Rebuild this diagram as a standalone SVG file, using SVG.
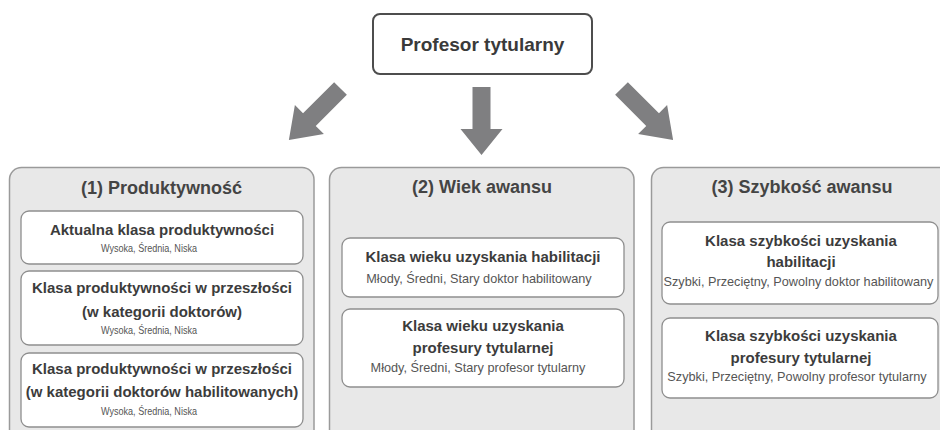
<svg xmlns="http://www.w3.org/2000/svg" width="940" height="430" viewBox="0 0 940 430">
<defs>
<style>
.bg{fill:#ffffff}
.panel{fill:#e8e8e8;stroke:#9a9a9a;stroke-width:1.5}
.box{fill:#ffffff;stroke:#8e8e8e;stroke-width:1.3}
.top{fill:#ffffff;stroke:#4d4d4d;stroke-width:2}
.arrow{fill:#7f7f81}
text{font-family:"Liberation Sans",Arial,sans-serif;text-anchor:middle}
.t0{font-size:19px;font-weight:bold;fill:#3a3a3a}
.ph{font-size:18px;font-weight:bold;fill:#444444}
.bt{font-size:15px;font-weight:bold;fill:#3c3c3c}
.s1{font-size:11px;fill:#555555}
.s2{font-size:12.7px;fill:#555555}
</style>
<polygon id="arr" points="-9,0 9,0 9,44 20.5,44 0,73 -20.5,44 -9,44"/>
</defs>
<rect class="bg" x="0" y="0" width="940" height="430"/>

<g id="connectors">
<use href="#arr" class="arrow" transform="translate(340.5,88.5) rotate(45)"/>
<polygon class="arrow" points="472.5,87 490.5,87 490.5,129 502.5,129 481.5,155 460.5,129 472.5,129"/>
<use href="#arr" class="arrow" transform="translate(621.5,88.5) rotate(-45)"/>
</g>

<g id="profesor">
<rect class="top" x="373" y="14" width="219" height="60" rx="7"/>
<text class="t0" x="482.5" y="51">Profesor tytularny</text>
</g>

<g id="panel1">
<rect class="panel" x="9.5" y="167.5" width="304.5" height="280" rx="12"/>
<text class="ph" x="161.5" y="194">(1) Produktywność</text>
</g>
<g id="p1box1">
<rect class="box" x="21" y="211" width="282" height="53" rx="8"/>
<text class="bt" x="162" y="235">Aktualna klasa produktywności</text>
<text class="s1" x="149" y="252" textLength="96" lengthAdjust="spacingAndGlyphs">Wysoka, Średnia, Niska</text>
</g>
<g id="p1box2">
<rect class="box" x="21" y="271" width="282" height="74" rx="8"/>
<text class="bt" x="162" y="293">Klasa produktywności w przeszłości</text>
<text class="bt" x="162" y="317">(w kategorii doktorów)</text>
<text class="s1" x="149" y="334" textLength="96" lengthAdjust="spacingAndGlyphs">Wysoka, Średnia, Niska</text>
</g>
<g id="p1box3">
<rect class="box" x="21" y="353" width="282" height="74" rx="8"/>
<text class="bt" x="162" y="374">Klasa produktywności w przeszłości</text>
<text class="bt" x="162" y="397">(w kategorii doktorów habilitowanych)</text>
<text class="s1" x="149" y="415" textLength="96" lengthAdjust="spacingAndGlyphs">Wysoka, Średnia, Niska</text>
</g>

<g id="panel2">
<rect class="panel" x="329.5" y="167.5" width="304.5" height="280" rx="12"/>
<text class="ph" x="482" y="193">(2) Wiek awansu</text>
</g>
<g id="p2box1">
<rect class="box" x="342" y="238" width="282" height="59" rx="8"/>
<text class="bt" x="483" y="262">Klasa wieku uzyskania habilitacji</text>
<text class="s2" x="479" y="283">Młody, Średni, Stary doktor habilitowany</text>
</g>
<g id="p2box2">
<rect class="box" x="342" y="309" width="282" height="78" rx="8"/>
<text class="bt" x="483" y="331">Klasa wieku uzyskania</text>
<text class="bt" x="483" y="353">profesury tytularnej</text>
<text class="s2" x="478" y="372">Młody, Średni, Stary profesor tytularny</text>
</g>

<g id="panel3">
<rect class="panel" x="651.5" y="167.5" width="310" height="280" rx="12"/>
<text class="ph" x="802" y="193">(3) Szybkość awansu</text>
</g>
<g id="p3box1">
<rect class="box" x="662" y="222" width="276" height="82" rx="8"/>
<text class="bt" x="801" y="246">Klasa szybkości uzyskania</text>
<text class="bt" x="801" y="267">habilitacji</text>
<text class="s2" x="798.5" y="286">Szybki, Przeciętny, Powolny doktor habilitowany</text>
</g>
<g id="p3box2">
<rect class="box" x="662" y="318" width="276" height="80" rx="8"/>
<text class="bt" x="801" y="341">Klasa szybkości uzyskania</text>
<text class="bt" x="801" y="363">profesury tytularnej</text>
<text class="s2" x="797" y="381">Szybki, Przeciętny, Powolny profesor tytularny</text>
</g>
</svg>
